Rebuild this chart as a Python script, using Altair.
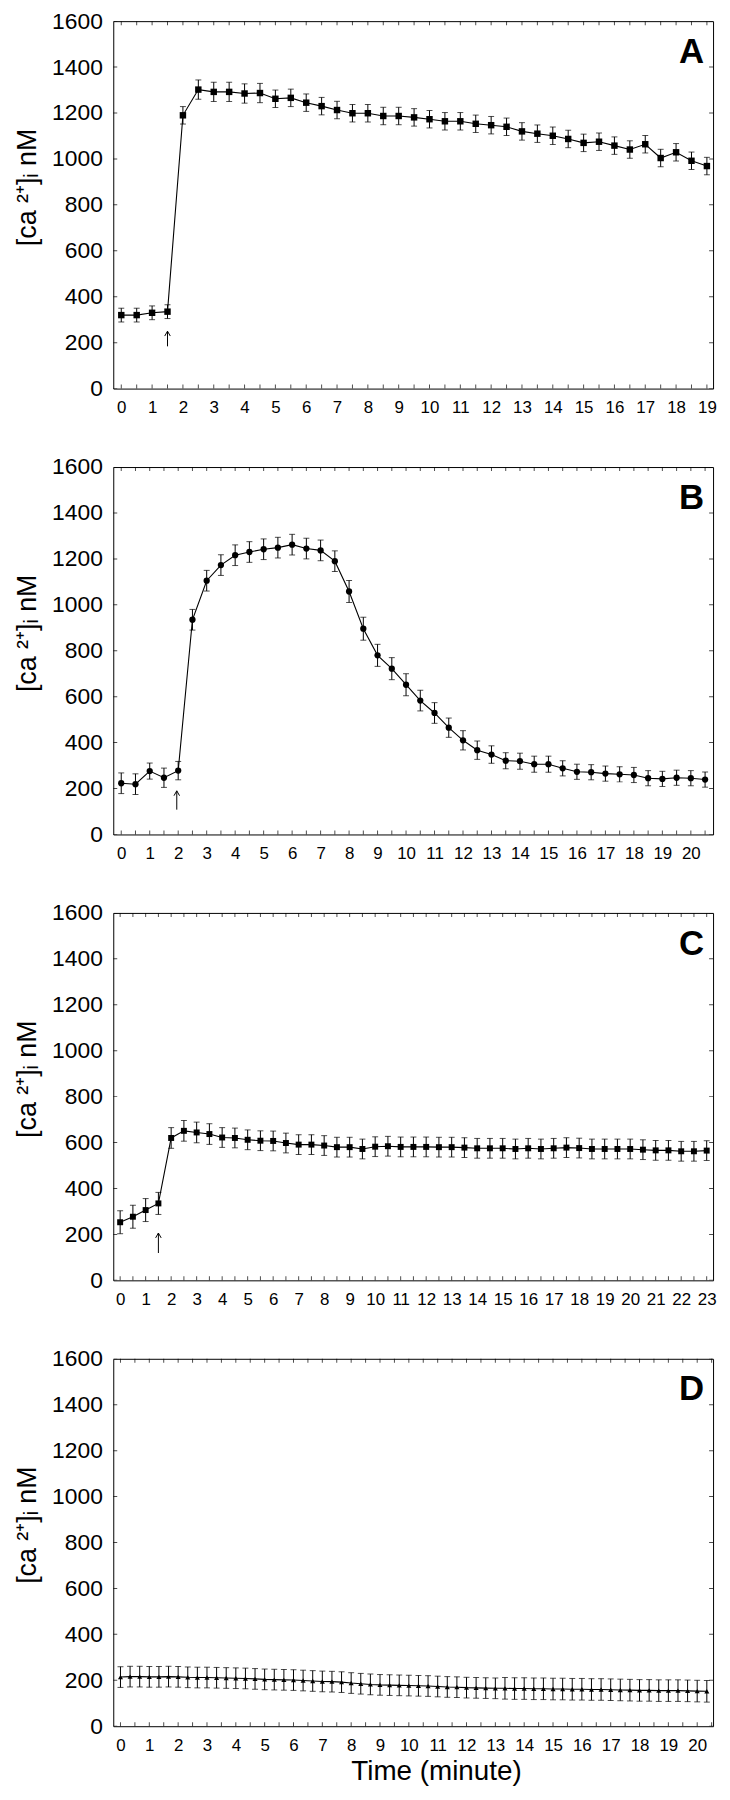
import altair as alt
import pandas as pd

FONT = "Liberation Sans"
W = 604
H = 370

# ---------------- data ----------------
# Panel A: sampled every 0.5 min
a_v = [320, 320, 330, 335, 1190, 1302, 1292, 1292, 1285, 1287,
       1262, 1266, 1245, 1230, 1213, 1199, 1199, 1187, 1187, 1181,
       1173, 1164, 1164, 1153, 1147, 1140, 1120, 1110, 1101, 1087,
       1070, 1075, 1058, 1041, 1064, 1004, 1029, 992, 969]
a_e = [30, 30, 30, 30, 38, 42, 42, 42, 42, 42,
       38, 38, 38, 38, 38, 38, 38, 38, 38, 38,
       38, 38, 38, 38, 38, 38, 38, 38, 38, 38,
       38, 38, 38, 38, 38, 38, 38, 38, 38]

# Panel B: sampled every 0.5 min
b_v = [223, 219, 276, 247, 278, 935, 1105, 1173, 1216, 1230,
       1242, 1249, 1262, 1245, 1237, 1190, 1058, 896, 780, 722,
       652, 583, 529, 465, 410, 367, 348, 321, 319, 306,
       306, 288, 273, 271, 265, 262, 259, 245, 242, 247,
       245, 239]
b_e = [45, 45, 35, 42, 40, 45, 45, 45, 45, 45,
       45, 45, 45, 45, 45, 45, 48, 50, 48, 48,
       48, 45, 45, 42, 42, 40, 38, 35, 35, 35,
       35, 33, 33, 33, 33, 33, 33, 33, 33, 33,
       33, 33]

# Panel C: sampled every 0.5 min
c_v = [253, 277, 306, 335, 620, 651, 644, 637, 622, 620,
       612, 608, 607, 598, 591, 591, 587, 580, 580, 572,
       582, 584, 581, 581, 581, 580, 580, 578, 575, 575,
       575, 572, 575, 572, 575, 578, 576, 572, 572, 572,
       572, 569, 566, 566, 562, 562, 565]
c_e = [50, 50, 50, 48, 45, 45, 45, 45, 43, 43,
       43, 43, 43, 43, 43, 43, 43, 43, 43, 43,
       43, 43, 43, 43, 43, 43, 43, 43, 43, 43,
       43, 43, 43, 43, 43, 43, 43, 43, 43, 43,
       43, 43, 43, 43, 43, 43, 43]

# Panel D: sampled every 20 s
d_v = [214, 216, 216, 215, 215, 216, 215, 213, 212, 212,
       211, 210, 209, 208, 206, 204, 203, 202, 201, 199,
       197, 195, 194, 192, 188, 185, 182, 180, 179, 178,
       177, 176, 175, 173, 171, 170, 168, 167, 166, 165,
       165, 164, 164, 163, 163, 162, 162, 161, 161, 160,
       160, 159, 158, 157, 156, 156, 155, 155, 155, 154,
       153, 152]
d_e = [45, 45, 45, 45, 45, 45, 45, 45, 45, 45,
       45, 45, 45, 45, 45, 45, 45, 45, 45, 45,
       45, 45, 45, 45, 45, 45, 45, 45, 45, 45,
       45, 45, 45, 45, 45, 45, 45, 45, 45, 45,
       47, 47, 47, 47, 47, 47, 47, 47, 47, 47,
       47, 47, 47, 47, 47, 47, 47, 47, 47, 47,
       47, 47]

# arrows (agonist addition): x, tail value, tip value
a_arrow = [1.5, 184, 250]
b_arrow = [1.95, 108, 190]
c_arrow = [1.5, 119, 206]

y_ticks = [0, 200, 400, 600, 800, 1000, 1200, 1400, 1600]
Y_TITLE = "[ca ²⁺]ᵢ nM"


def panel(values, errs, step, xdom, xmax_label, letter, shape, size, arrow, last):
    t = [i * step for i in range(len(values))]
    df = pd.DataFrame({"t": t, "v": values,
                       "lo": [v - e for v, e in zip(values, errs)],
                       "hi": [v + e for v, e in zip(values, errs)]})
    xs = alt.Scale(domain=xdom, nice=False, zero=False)
    ys = alt.Scale(domain=[0, 1600], nice=False, zero=False)

    xaxis_kw = dict(values=list(range(xmax_label + 1)), labelFontSize=17,
                    labelPadding=11, domain=False, ticks=False, tickSize=0,
                    grid=False, labelOverlap=False, labelFlush=False, format="d",
                    labelFont=FONT, labelColor="black")
    if last:
        xaxis = alt.Axis(titleFontSize=28, titleFontWeight="normal",
                         titlePadding=5, titleX=325, titleFont=FONT,
                         titleColor="black", **xaxis_kw)
        xtitle = "Time (minute)"
    else:
        xaxis = alt.Axis(**xaxis_kw)
        xtitle = None

    yaxis = alt.Axis(values=y_ticks, labelFontSize=23, labelPadding=11,
                     domain=False, ticks=False, tickSize=0, grid=False,
                     labelFlush=False, format="d",
                     labelFont=FONT, labelColor="black",
                     titleFont=FONT, titleFontSize=27, titleFontWeight="normal",
                     titleColor="black", titlePadding=10, titleY=H / 2 - 18)

    # every layer carries the same axis spec so they merge into one axis
    def X(field):
        return alt.X(field, scale=xs, axis=xaxis, title=xtitle)

    def Y(field):
        return alt.Y(field, scale=ys, axis=yaxis, title=Y_TITLE)

    base = alt.Chart(df)
    line = base.mark_line(color="black", strokeWidth=1.1).encode(
        x=X("t:Q"), y=Y("v:Q"))
    bars = base.mark_rule(color="black", strokeWidth=1).encode(
        x=X("t:Q"), y=Y("lo:Q"), y2="hi:Q")
    cap_lo = base.mark_tick(color="black", orient="horizontal", size=6,
                            thickness=1).encode(x=X("t:Q"), y=Y("lo:Q"))
    cap_hi = base.mark_tick(color="black", orient="horizontal", size=6,
                            thickness=1).encode(x=X("t:Q"), y=Y("hi:Q"))
    pts = base.mark_point(filled=True, shape=shape, size=size, color="black",
                          opacity=1).encode(x=X("t:Q"), y=Y("v:Q"))

    layers = [line, bars, cap_lo, cap_hi, pts]

    if arrow is not None:
        adf = pd.DataFrame({"x": [arrow[0]], "y1": [arrow[1]], "y2": [arrow[2]]})
        ach = alt.Chart(adf)
        layers.append(ach.mark_rule(color="black", strokeWidth=1).encode(
            x=X("x:Q"), y=Y("y1:Q"), y2="y2:Q"))
        layers.append(ach.mark_point(shape="M-0.8,1.4L0,0L0.8,1.4", filled=False,
                                     size=49, color="black", strokeWidth=1,
                                     opacity=1).encode(
            x=X("x:Q"), y=Y("y2:Q")))

    # inward ticks on all four sides
    xt = [i * 0.5 for i in range(int(xdom[1] * 2) + 1)]
    xtdf = pd.DataFrame({"t": xt})
    for yv in (0, H):
        layers.append(alt.Chart(xtdf).mark_tick(
            color="black", orient="vertical", size=8, thickness=1, clip=True
        ).encode(x=X("t:Q"), y=alt.value(yv)))
    ytdf = pd.DataFrame({"v": y_ticks})
    for xv in (0, W):
        layers.append(alt.Chart(ytdf).mark_tick(
            color="black", orient="horizontal", size=8, thickness=1, clip=True
        ).encode(y=Y("v:Q"), x=alt.value(xv)))

    ldf = pd.DataFrame({"l": [letter]})
    layers.append(alt.Chart(ldf).mark_text(
        font=FONT, fontSize=35, fontWeight="bold", color="black",
        align="right", baseline="alphabetic").encode(
        text="l:N", x=alt.value(W - 9), y=alt.value(42)))

    return alt.layer(*layers).properties(width=W, height=H)


pA = panel(a_v, a_e, 0.5, [-0.26, 19.2], 19, "A", "square", 42, a_arrow, False)
pB = panel(b_v, b_e, 0.5, [-0.28, 20.78], 20, "B", "circle", 40, b_arrow, False)
pC = panel(c_v, c_e, 0.5, [-0.27, 23.25], 23, "C", "square", 36, c_arrow, False)
pD = panel(d_v, d_e, 1 / 3, [-0.25, 20.55], 20, "D", "triangle-up", 26, None, True)

chart = alt.vconcat(pA, pB, pC, pD, spacing=39).properties(
    padding={"left": 5, "top": -5, "right": 5, "bottom": 0},
    background="white",
).configure_view(stroke="black", strokeWidth=1)

chart.save("out.html", embed_options={"renderer": "svg", "actions": False})
